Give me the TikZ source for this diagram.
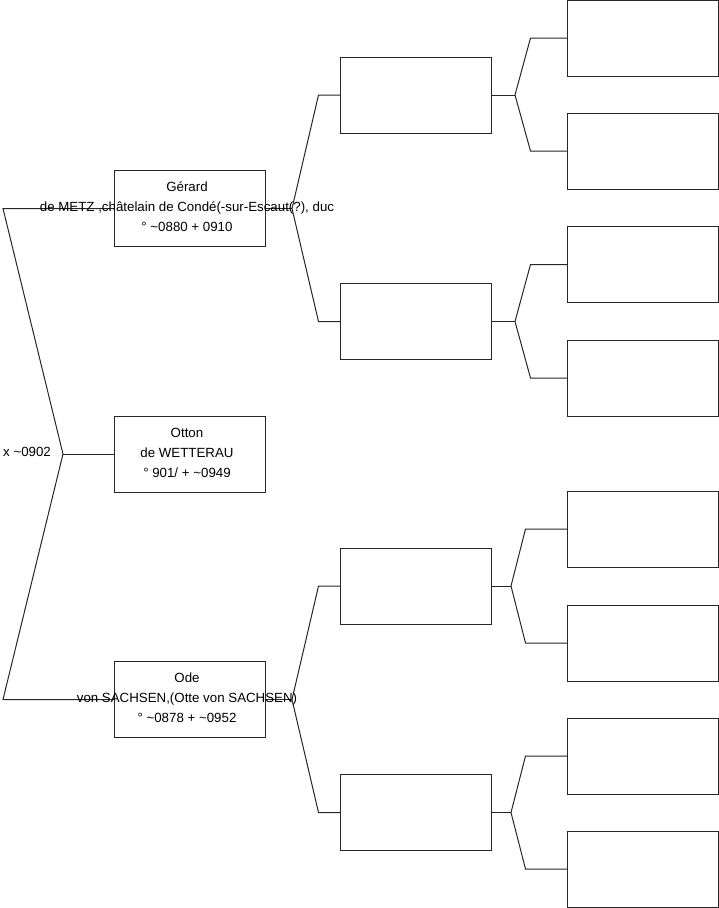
\documentclass[tikz,border=0pt]{standalone}
\usepackage{fontspec}
\setmainfont{Liberation Sans}
\usetikzlibrary{calc}
\begin{document}
\begin{tikzpicture}[x=1pt,y=-1pt,
  box/.style={draw=black!85, line width=1pt, minimum width=151pt, minimum height=76pt, inner sep=0pt, outer sep=0pt, fill=none},
  txt/.style={align=center, inner sep=0pt, font=\fontsize{13.3}{20}\selectfont},
  conn/.style={draw=black!85, line width=1pt, line join=miter}]
\useasboundingbox (0,0) rectangle (719,908);
% generation 1
\node[box] (g) at (189.5,208.5) {};
\node[box] (o) at (189.5,454) {};
\node[box] (s) at (189.5,699.5) {};
% generation 2
\node[box] (a1) at (416,95) {};
\node[box] (a2) at (416,321.5) {};
\node[box] (a3) at (416,586) {};
\node[box] (a4) at (416,812.5) {};
% generation 3
\node[box] (b1) at (643,38) {};
\node[box] (b2) at (643,151) {};
\node[box] (b3) at (643,264.5) {};
\node[box] (b4) at (643,378) {};
\node[box] (b5) at (643,529) {};
\node[box] (b6) at (643,643) {};
\node[box] (b7) at (643,756) {};
\node[box] (b8) at (643,869) {};
% connector coordinates
\coordinate (r) at (63,454);
\coordinate (rt) at (3,208.5);
\coordinate (rb) at (3,699.5);
\coordinate (vg) at (292,208.5);
\coordinate (vs) at (292,699.5);
\coordinate (v1) at (515,95);
\coordinate (v2) at (515,321.5);
\coordinate (v3) at (511,586);
\coordinate (v4) at (511,812.5);
% connectors
\draw[conn] (o.west) -- (r);
\draw[conn] (g.west) -- (rt) -- (r) -- (rb) -- (s.west);
\draw[conn] (g.east) -- (vg);
\draw[conn] (a1.west) -- +(-22,0) -- (vg) -- ($(a2.west)+(-22,0)$) -- (a2.west);
\draw[conn] (s.east) -- (vs);
\draw[conn] (a3.west) -- +(-22,0) -- (vs) -- ($(a4.west)+(-22,0)$) -- (a4.west);
\draw[conn] (a1.east) -- (v1);
\draw[conn] (b1.west) -- +(-37,0) -- (v1) -- ($(b2.west)+(-37,0)$) -- (b2.west);
\draw[conn] (a2.east) -- (v2);
\draw[conn] (b3.west) -- +(-37,0) -- (v2) -- ($(b4.west)+(-37,0)$) -- (b4.west);
\draw[conn] (a3.east) -- (v3);
\draw[conn] (b5.west) -- +(-42,0) -- (v3) -- ($(b6.west)+(-42,0)$) -- (b6.west);
\draw[conn] (a4.east) -- (v4);
\draw[conn] (b7.west) -- +(-42,0) -- (v4) -- ($(b8.west)+(-42,0)$) -- (b8.west);
% texts
\node[txt] (tg) at (187,207) {Gérard\\de METZ ,châtelain de Condé(-sur-Escaut(?), duc\\° \textasciitilde0880 + 0910};
\node[txt] (to) at (187,453) {Otton\\de WETTERAU\\° 901/ + \textasciitilde0949};
\node[txt] (ts) at (187,698) {Ode\\von SACHSEN,(Otte von SACHSEN)\\° \textasciitilde0878 + \textasciitilde0952};
\node[txt, anchor=west] (tx) at (3,452) {x \textasciitilde0902};
\end{tikzpicture}
\end{document}
